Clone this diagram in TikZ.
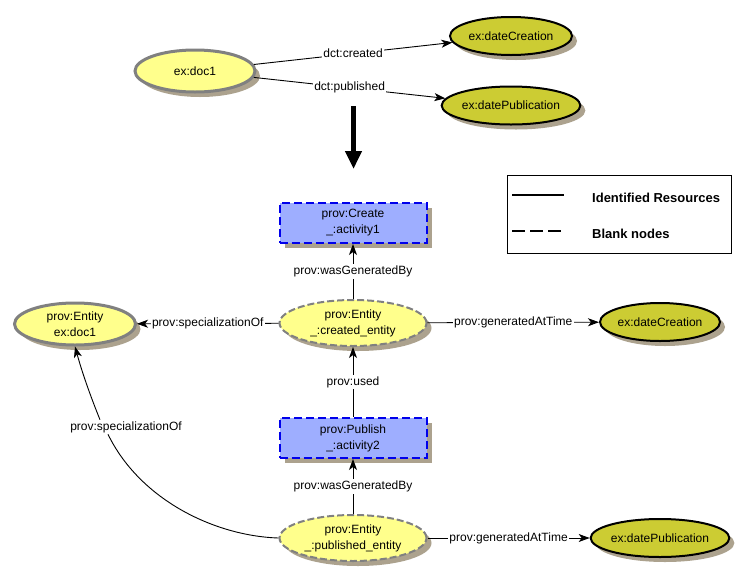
\documentclass[tikz,border=0pt]{standalone}
\usepackage{fontspec}
\setmainfont{Liberation Sans}
\usetikzlibrary{shapes.geometric,arrows.meta,shadows}
\definecolor{yel}{RGB}{255,255,140}
\definecolor{olivef}{RGB}{204,204,51}
\definecolor{grayb}{RGB}{128,128,128}
\definecolor{bluef}{RGB}{158,174,255}
\definecolor{blueb}{RGB}{0,0,235}
\definecolor{shadowc}{RGB}{172,162,142}
\begin{document}
\begin{tikzpicture}[x=1pt,y=-1pt,
  base/.style={font=\fontsize{12}{16}\selectfont, align=center, inner sep=0pt,
    drop shadow={shadow xshift=5pt,shadow yshift=-5pt,fill=shadowc,opacity=1}},
  res/.style={base, ellipse, fill=yel, draw=grayb, line width=3pt},
  blank/.style={base, ellipse, fill=yel, draw=grayb, line width=2pt, dash pattern=on 7pt off 3pt},
  lit/.style={base, ellipse, fill=olivef, draw=black, line width=2pt},
  act/.style={base, rectangle, fill=bluef, draw=blueb, line width=2pt, dash pattern=on 8pt off 4pt,
    minimum width=147pt, minimum height=40pt},
  lab/.style={fill=white, inner sep=1.5pt, font=\fontsize{12}{14}\selectfont},
  edge/.style={line width=0.9pt, -{Stealth[length=11pt,width=8pt,inset=3pt]}},
  legtext/.style={font=\bfseries\fontsize{13}{15}\selectfont, anchor=west, inner sep=0pt},
]
\useasboundingbox (0,0) rectangle (745,579);
\fill[white] (0,0) rectangle (745,579);

% top graph
\node[res, minimum width=120pt, minimum height=42pt] (doc1) at (195,71) {ex:doc1};
\node[lit, minimum width=122pt, minimum height=38pt] (dc1) at (511,36) {ex:dateCreation};
\node[lit, minimum width=122pt, minimum height=38pt] (dp1) at (511,105.5) {ex:datePublication};

\draw[edge] (doc1) -- node[lab] {dct:created} (dc1);
\draw[edge] (doc1) -- node[lab] {dct:published} (dp1);

% big arrow
\coordinate (bigtop) at (353.5,106);
\coordinate (bigbot) at (353.5,169);
\draw[line width=5pt, -{Triangle[length=18pt,width=16pt]}] (bigtop) -- (bigbot);

% lower graph
\node[act] (create) at (353,223) {prov:Create\\\_:activity1};
\node[blank, minimum width=147pt, minimum height=46pt] (ce) at (353,323) {prov:Entity\\\_:created\_entity};
\node[res, minimum width=121pt, minimum height=42pt] (ent) at (75,324) {prov:Entity\\ex:doc1};
\node[lit, minimum width=120pt, minimum height=38pt] (dc2) at (660,322) {ex:dateCreation};
\node[act] (publish) at (353,438) {prov:Publish\\\_:activity2};
\node[blank, minimum width=147pt, minimum height=46pt] (pe) at (353,538) {prov:Entity\\\_:published\_entity};
\node[lit, minimum width=120pt, minimum height=38pt] (dp2) at (660,538) {ex:datePublication};

\draw[edge] (ce) -- node[lab] {prov:wasGeneratedBy} (create);
\draw[edge] (ce) -- node[lab] {prov:specializationOf} (ent);
\draw[edge] (ce) -- node[lab] {prov:generatedAtTime} (dc2);
\draw[edge] (publish) -- node[lab] {prov:used} (ce);
\draw[edge] (pe) -- node[lab] {prov:wasGeneratedBy} (publish);
\draw[edge] (pe) -- node[lab] {prov:generatedAtTime} (dp2);

% curved specialization
\node[lab] (spec2) at (126,427) {prov:specializationOf};
\draw[line width=0.9pt] (pe.west) .. controls (215,536) and (140,500) .. ([xshift=-18pt]spec2.south);
\draw[edge] ([xshift=-26pt]spec2.north) .. controls (90,395) and (82,372) .. (ent.south);

% legend
\draw[line width=1pt] (507,175) rectangle (731,253);
\coordinate (l1a) at (512,195);
\coordinate (l1b) at (564,195);
\coordinate (l2a) at (512,231);
\coordinate (l2b) at (564,231);
\draw[line width=2pt] (l1a) -- (l1b);
\draw[line width=2pt, dash pattern=on 13pt off 5pt] (l2a) -- (l2b);
\node[legtext] (leg1) at (592,198) {Identified Resources};
\node[legtext] (leg2) at (592,234) {Blank nodes};
\end{tikzpicture}
\end{document}
